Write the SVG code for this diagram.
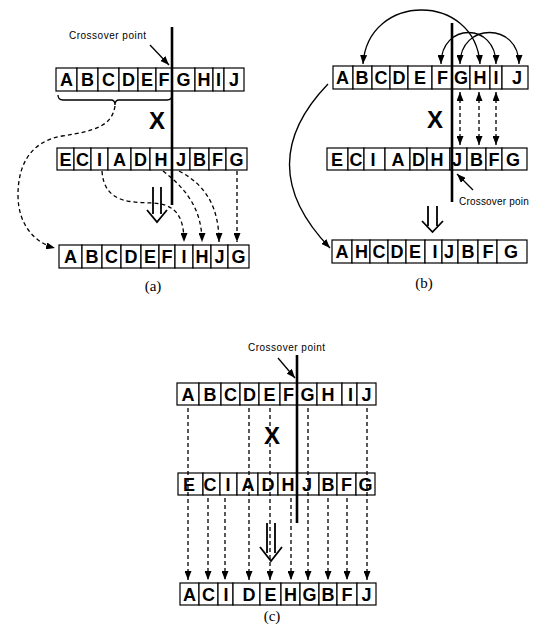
<svg xmlns="http://www.w3.org/2000/svg" width="533" height="634" viewBox="0 0 533 634">
<style>
.cell{fill:#fff;stroke:#000;stroke-width:1.2}
.lt{font-family:"Liberation Sans",Arial,sans-serif;font-weight:bold;font-size:18px;text-anchor:middle;fill:#000}
.dash{fill:none;stroke:#000;stroke-width:1.3;stroke-dasharray:4 3}
.solid{fill:none;stroke:#000;stroke-width:1.3}
.xo{stroke:#000;stroke-width:2.6;fill:none}
.cap{font-family:"Liberation Sans",Arial,sans-serif;font-size:10px;letter-spacing:0.5px;fill:#000}
.lab{font-family:"Liberation Serif","Times New Roman",serif;font-size:15px;text-anchor:middle;fill:#000}
.bigx{font-family:"Liberation Sans",Arial,sans-serif;font-weight:bold;font-size:24px;text-anchor:middle;fill:#000}
.hol{fill:none;stroke:#000;stroke-width:1.8}
</style>
<defs>
<marker id="ah" viewBox="0 0 9 7" refX="9" refY="3.5" markerWidth="9" markerHeight="7" markerUnits="userSpaceOnUse" orient="auto-start-reverse">
<path d="M0,0 L9,3.5 L0,7 z" fill="#000"/>
</marker>
</defs>

<!-- ===== Panel (a) ===== -->
<g id="a-top">
<rect class="cell" x="56" y="68" width="21" height="23"/><text class="lt" x="66.5" y="86">A</text>
<rect class="cell" x="77" y="68" width="21" height="23"/><text class="lt" x="87.5" y="86">B</text>
<rect class="cell" x="98" y="68" width="21" height="23"/><text class="lt" x="108.5" y="86">C</text>
<rect class="cell" x="119" y="68" width="19" height="23"/><text class="lt" x="128.5" y="86">D</text>
<rect class="cell" x="138" y="68" width="18" height="23"/><text class="lt" x="147" y="86">E</text>
<rect class="cell" x="156" y="68" width="16" height="23"/><text class="lt" x="164" y="86">F</text>
<rect class="cell" x="172" y="68" width="23" height="23"/><text class="lt" x="183.5" y="86">G</text>
<rect class="cell" x="195" y="68" width="18" height="23"/><text class="lt" x="204" y="86">H</text>
<rect class="cell" x="213" y="68" width="11" height="23"/><text class="lt" x="218.5" y="86">I</text>
<rect class="cell" x="224" y="68" width="20" height="23"/><text class="lt" x="234" y="86">J</text>
</g>
<g id="a-mid">
<rect class="cell" x="57" y="148" width="17" height="22"/><text class="lt" x="65.5" y="165.5">E</text>
<rect class="cell" x="74" y="148" width="17" height="22"/><text class="lt" x="82.5" y="165.5">C</text>
<rect class="cell" x="91" y="148" width="17" height="22"/><text class="lt" x="99.5" y="165.5">I</text>
<rect class="cell" x="108" y="148" width="23" height="22"/><text class="lt" x="119.5" y="165.5">A</text>
<rect class="cell" x="131" y="148" width="19" height="22"/><text class="lt" x="140.5" y="165.5">D</text>
<rect class="cell" x="150" y="148" width="22" height="22"/><text class="lt" x="161" y="165.5">H</text>
<rect class="cell" x="172" y="148" width="18" height="22"/><text class="lt" x="181" y="165.5">J</text>
<rect class="cell" x="190" y="148" width="19" height="22"/><text class="lt" x="199.5" y="165.5">B</text>
<rect class="cell" x="209" y="148" width="17" height="22"/><text class="lt" x="217.5" y="165.5">F</text>
<rect class="cell" x="226" y="148" width="21" height="22"/><text class="lt" x="236.5" y="165.5">G</text>
</g>
<g id="a-bot">
<rect class="cell" x="59" y="245" width="23" height="23"/><text class="lt" x="70.5" y="263">A</text>
<rect class="cell" x="82" y="245" width="20" height="23"/><text class="lt" x="92" y="263">B</text>
<rect class="cell" x="102" y="245" width="19" height="23"/><text class="lt" x="111.5" y="263">C</text>
<rect class="cell" x="121" y="245" width="20" height="23"/><text class="lt" x="131" y="263">D</text>
<rect class="cell" x="141" y="245" width="18" height="23"/><text class="lt" x="150" y="263">E</text>
<rect class="cell" x="159" y="245" width="16" height="23"/><text class="lt" x="167" y="263">F</text>
<rect class="cell" x="175" y="245" width="18" height="23"/><text class="lt" x="184" y="263">I</text>
<rect class="cell" x="193" y="245" width="18" height="23"/><text class="lt" x="202" y="263">H</text>
<rect class="cell" x="211" y="245" width="17" height="23"/><text class="lt" x="219.5" y="263">J</text>
<rect class="cell" x="228" y="245" width="21" height="23"/><text class="lt" x="238.5" y="263">G</text>
</g>
<g id="a-labels">
<text class="cap" x="69" y="39">Crossover point</text>
<text class="bigx" x="157" y="128.5">X</text>
<text class="lab" x="153" y="291">(a)</text>
</g>
<g id="a-connectors">
<line class="xo" x1="172" y1="27" x2="172" y2="205"/>
<line class="solid" x1="150" y1="45" x2="169" y2="65" marker-end="url(#ah)"/>
<path class="solid" d="M58,95 Q58,100 63,100 L111,100 Q115,100 115,105 Q115,100 119,100 L167,100 Q172,100 172,95"/>
<path class="dash" d="M115,106 C112,126 95,131 62,136 C28,142 18,168 18,195 C18,225 35,243 55,248" marker-end="url(#ah)"/>
<path class="dash" d="M102,171 C104,203 130,202 152,203 C174,204 184,214 184,242" marker-end="url(#ah)"/>
<path class="dash" d="M163,171 C185,188 202,208 202,242" marker-end="url(#ah)"/>
<path class="dash" d="M179,171 C208,186 219,210 219,242" marker-end="url(#ah)"/>
<path class="dash" d="M237,171 L237,242" marker-end="url(#ah)"/>
<path class="hol" d="M153,187 V214 M161,187 V214 M147,210 L157,222 L167,210"/>
</g>

<!-- ===== Panel (b) ===== -->
<g id="b-top">
<rect class="cell" x="333" y="66" width="20" height="23"/><text class="lt" x="342.5" y="84">A</text>
<rect class="cell" x="353" y="66" width="19" height="23"/><text class="lt" x="362" y="84">B</text>
<rect class="cell" x="372" y="66" width="18" height="23"/><text class="lt" x="381" y="84">C</text>
<rect class="cell" x="390" y="66" width="18" height="23"/><text class="lt" x="399" y="84">D</text>
<rect class="cell" x="408" y="66" width="24" height="23"/><text class="lt" x="420" y="84">E</text>
<rect class="cell" x="432" y="66" width="20" height="23"/><text class="lt" x="442.5" y="84">F</text>
<rect class="cell" x="452" y="66" width="18" height="23"/><text class="lt" x="461" y="84">G</text>
<rect class="cell" x="470" y="66" width="20" height="23"/><text class="lt" x="480" y="84">H</text>
<rect class="cell" x="490" y="66" width="12" height="23"/><text class="lt" x="496" y="84">I</text>
<rect class="cell" x="502" y="66" width="26" height="23"/><text class="lt" x="517" y="84">J</text>
</g>
<g id="b-mid">
<rect class="cell" x="327" y="148" width="21" height="22"/><text class="lt" x="337" y="165.5">E</text>
<rect class="cell" x="348" y="148" width="16" height="22"/><text class="lt" x="356" y="165.5">C</text>
<rect class="cell" x="364" y="148" width="21" height="22"/><text class="lt" x="373" y="165.5">I</text>
<rect class="cell" x="385" y="148" width="25" height="22"/><text class="lt" x="398" y="165.5">A</text>
<rect class="cell" x="410" y="148" width="17" height="22"/><text class="lt" x="418.5" y="165.5">D</text>
<rect class="cell" x="427" y="148" width="23" height="22"/><text class="lt" x="437" y="165.5">H</text>
<rect class="cell" x="450" y="148" width="17" height="22"/><text class="lt" x="457" y="165.5">J</text>
<rect class="cell" x="467" y="148" width="19" height="22"/><text class="lt" x="476.5" y="165.5">B</text>
<rect class="cell" x="486" y="148" width="16" height="22"/><text class="lt" x="494" y="165.5">F</text>
<rect class="cell" x="502" y="148" width="25" height="22"/><text class="lt" x="513" y="165.5">G</text>
</g>
<g id="b-bot">
<rect class="cell" x="332" y="240" width="20" height="23"/><text class="lt" x="342" y="258">A</text>
<rect class="cell" x="352" y="240" width="18" height="23"/><text class="lt" x="361.5" y="258">H</text>
<rect class="cell" x="370" y="240" width="18" height="23"/><text class="lt" x="379" y="258">C</text>
<rect class="cell" x="388" y="240" width="18" height="23"/><text class="lt" x="397" y="258">D</text>
<rect class="cell" x="406" y="240" width="19" height="23"/><text class="lt" x="415" y="258">E</text>
<rect class="cell" x="425" y="240" width="17" height="23"/><text class="lt" x="435" y="258">I</text>
<rect class="cell" x="442" y="240" width="16" height="23"/><text class="lt" x="449" y="258">J</text>
<rect class="cell" x="458" y="240" width="20" height="23"/><text class="lt" x="468" y="258">B</text>
<rect class="cell" x="478" y="240" width="19" height="23"/><text class="lt" x="488" y="258">F</text>
<rect class="cell" x="497" y="240" width="30" height="23"/><text class="lt" x="511" y="258">G</text>
</g>
<g id="b-labels">
<text class="bigx" x="435" y="127.5">X</text>
<text class="cap" x="459" y="205" style="letter-spacing:0.2px">Crossover poin</text>
<text class="lab" x="424" y="288">(b)</text>
</g>
<g id="b-connectors">
<line class="xo" x1="452" y1="23" x2="452" y2="202"/>
<line class="solid" x1="473" y1="190" x2="457" y2="174" marker-end="url(#ah)"/>
<path class="solid" d="M363,64 C368,-8 475,-8 480,64" marker-start="url(#ah)" marker-end="url(#ah)"/>
<path class="solid" d="M441,64 C441,22 496,22 496,64" marker-start="url(#ah)" marker-end="url(#ah)"/>
<path class="solid" d="M460,64 C460,22 519,22 519,64" marker-start="url(#ah)" marker-end="url(#ah)"/>
<path class="dash" d="M460,92 V145" marker-start="url(#ah)" marker-end="url(#ah)"/>
<path class="dash" d="M479,92 V145" marker-start="url(#ah)" marker-end="url(#ah)"/>
<path class="dash" d="M496,92 V145" marker-start="url(#ah)" marker-end="url(#ah)"/>
<path class="solid" d="M328,84 Q250,165 330,248" marker-end="url(#ah)"/>
<path class="hol" d="M428,206 V226 M437,206 V226 M422,221 L432.5,232 L443,221"/>
</g>

<!-- ===== Panel (c) ===== -->
<g id="c-top">
<rect class="cell" x="177" y="383" width="22" height="22"/><text class="lt" x="188" y="400.5">A</text>
<rect class="cell" x="199" y="383" width="22" height="22"/><text class="lt" x="210" y="400.5">B</text>
<rect class="cell" x="221" y="383" width="19" height="22"/><text class="lt" x="230.5" y="400.5">C</text>
<rect class="cell" x="240" y="383" width="19" height="22"/><text class="lt" x="249.5" y="400.5">D</text>
<rect class="cell" x="259" y="383" width="21" height="22"/><text class="lt" x="269.5" y="400.5">E</text>
<rect class="cell" x="280" y="383" width="17" height="22"/><text class="lt" x="288.5" y="400.5">F</text>
<rect class="cell" x="297" y="383" width="20" height="22"/><text class="lt" x="307.5" y="400.5">G</text>
<rect class="cell" x="317" y="383" width="25" height="22"/><text class="lt" x="328" y="400.5">H</text>
<rect class="cell" x="342" y="383" width="15" height="22"/><text class="lt" x="350.5" y="400.5">I</text>
<rect class="cell" x="357" y="383" width="19" height="22"/><text class="lt" x="366.5" y="400.5">J</text>
</g>
<g id="c-mid">
<rect class="cell" x="178" y="473" width="25" height="22"/><text class="lt" x="189" y="490.5">E</text>
<rect class="cell" x="203" y="473" width="17" height="22"/><text class="lt" x="210" y="490.5">C</text>
<rect class="cell" x="220" y="473" width="17" height="22"/><text class="lt" x="228" y="490.5">I</text>
<rect class="cell" x="237" y="473" width="21" height="22"/><text class="lt" x="248" y="490.5">A</text>
<rect class="cell" x="258" y="473" width="20" height="22"/><text class="lt" x="268" y="490.5">D</text>
<rect class="cell" x="278" y="473" width="19" height="22"/><text class="lt" x="288" y="490.5">H</text>
<rect class="cell" x="297" y="473" width="22" height="22"/><text class="lt" x="307" y="490.5">J</text>
<rect class="cell" x="319" y="473" width="18" height="22"/><text class="lt" x="328" y="490.5">B</text>
<rect class="cell" x="337" y="473" width="19" height="22"/><text class="lt" x="346.5" y="490.5">F</text>
<rect class="cell" x="356" y="473" width="19" height="22"/><text class="lt" x="365.5" y="490.5">G</text>
</g>
<g id="c-bot">
<rect class="cell" x="180" y="583" width="19" height="22"/><text class="lt" x="189.5" y="600.5">A</text>
<rect class="cell" x="199" y="583" width="19" height="22"/><text class="lt" x="208.5" y="600.5">C</text>
<rect class="cell" x="218" y="583" width="15" height="22"/><text class="lt" x="226" y="600.5">I</text>
<rect class="cell" x="233" y="583" width="27" height="22"/><text class="lt" x="249" y="600.5">D</text>
<rect class="cell" x="260" y="583" width="21" height="22"/><text class="lt" x="270.5" y="600.5">E</text>
<rect class="cell" x="281" y="583" width="19" height="22"/><text class="lt" x="290.5" y="600.5">H</text>
<rect class="cell" x="300" y="583" width="19" height="22"/><text class="lt" x="309.5" y="600.5">G</text>
<rect class="cell" x="319" y="583" width="18" height="22"/><text class="lt" x="328" y="600.5">B</text>
<rect class="cell" x="337" y="583" width="20" height="22"/><text class="lt" x="347" y="600.5">F</text>
<rect class="cell" x="357" y="583" width="19" height="22"/><text class="lt" x="366.5" y="600.5">J</text>
</g>
<g id="c-labels">
<text class="cap" x="248" y="351">Crossover point</text>
<text class="bigx" x="272" y="444">X</text>
<text class="lab" x="272" y="621">(c)</text>
</g>
<g id="c-connectors">
<path class="dash" d="M188,408 V580" marker-end="url(#ah)"/>
<path class="dash" d="M249,408 V580" marker-end="url(#ah)"/>
<path class="dash" d="M270,408 V580" marker-end="url(#ah)"/>
<path class="dash" d="M308,408 V580" marker-end="url(#ah)"/>
<path class="dash" d="M367,408 V580" marker-end="url(#ah)"/>
<path class="dash" d="M208,498 V580" marker-end="url(#ah)"/>
<path class="dash" d="M225,498 V580" marker-end="url(#ah)"/>
<path class="dash" d="M291,498 V580" marker-end="url(#ah)"/>
<path class="dash" d="M328,498 V580" marker-end="url(#ah)"/>
<path class="dash" d="M347,498 V580" marker-end="url(#ah)"/>
<line class="xo" x1="297" y1="355" x2="297" y2="523"/>
<line class="solid" x1="278" y1="358" x2="295" y2="378" marker-end="url(#ah)"/>
<path class="hol" d="M267,523 V553 M275,523 V553 M260,547 L271,561 L282,547"/>
</g>
</svg>
